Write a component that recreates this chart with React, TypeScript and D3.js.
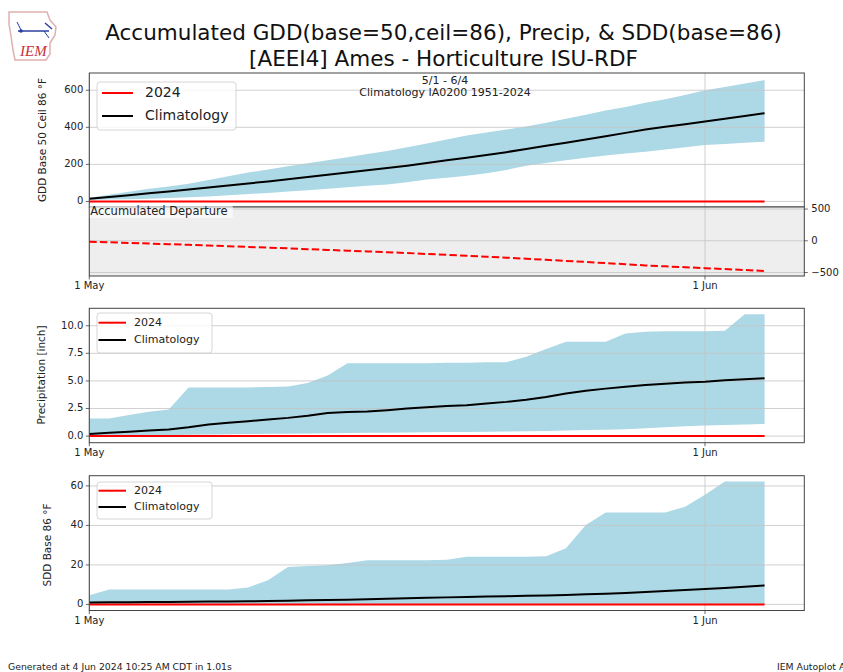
import React from "react";
import * as d3 from "d3";

// ---------- data ----------
const startDate = new Date(Date.UTC(2024, 4, 1));
const endDomain = new Date(Date.UTC(2024, 5, 6));
const dates: Date[] = d3.utcDay.range(startDate, new Date(Date.UTC(2024, 5, 5)));

const gddObs2024 = [0,0,0,0,0,0,0,0,0,0,0,0,0,0,0,0,0,0,0,0,0,0,0,0,0,0,0,0,0,0,0,0,0,0,0];
const gddClim = [14,24,34,44,54,64,75,86,97,108,120,132,144,156,168,180,193,208,222,236,251,266,283,300,317,334,352,370,388,403,417,431,446,461,476];
const gddUpper = [20,36,52,68,80,96,116,136,156,172,190,206,222,238,256,272,292,312,334,356,372,388,405,424,446,468,490,510,532,552,574,600,618,636,655];
const gddLower = [8,10,12,15,18,22,27,33,40,46,54,61,68,76,84,92,104,118,128,138,152,170,192,208,222,236,248,258,268,280,292,304,310,316,322];

const pcpObs2024 = [0,0,0,0,0,0,0,0,0,0,0,0,0,0,0,0,0,0,0,0,0,0,0,0,0,0,0,0,0,0,0,0,0,0,0];
const pcpClim = [0.19,0.3,0.4,0.5,0.6,0.8,1.05,1.2,1.35,1.5,1.65,1.85,2.1,2.18,2.22,2.35,2.5,2.62,2.72,2.8,2.95,3.1,3.3,3.55,3.85,4.1,4.3,4.48,4.62,4.75,4.85,4.93,5.05,5.15,5.24];
const pcpUpper = [1.6,1.6,1.9,2.2,2.4,4.4,4.4,4.4,4.4,4.45,4.5,4.8,5.5,6.6,6.6,6.6,6.6,6.6,6.65,6.65,6.7,6.7,7.2,7.9,8.55,8.55,8.55,9.3,9.45,9.5,9.5,9.5,9.55,11.05,11.05];
const pcpLower = [0,0.02,0.05,0.08,0.1,0.12,0.14,0.16,0.18,0.2,0.22,0.24,0.26,0.28,0.3,0.3,0.32,0.34,0.36,0.38,0.4,0.42,0.44,0.46,0.5,0.54,0.58,0.62,0.7,0.8,0.9,0.95,1.0,1.05,1.1];

const sddObs2024 = [0,0,0,0,0,0,0,0,0,0,0,0,0,0,0,0,0,0,0,0,0,0,0,0,0,0,0,0,0,0,0,0,0,0,0];
const sddClim = [1.0,1.05,1.1,1.15,1.2,1.3,1.4,1.5,1.6,1.7,1.9,2.05,2.2,2.4,2.6,2.85,3.1,3.35,3.55,3.75,3.95,4.15,4.35,4.55,4.8,5.1,5.4,5.8,6.3,6.8,7.3,7.8,8.3,8.9,9.6];
const sddUpper = [4.6,7.6,7.6,7.6,7.6,7.6,7.6,7.6,8.6,12.2,19.0,19.5,19.8,21.0,22.4,22.4,22.4,22.4,22.6,24.1,24.1,24.1,24.1,24.4,28.5,40.2,46.5,46.5,46.5,46.5,49.5,55.5,62.2,62.2,62.2];
const sddLower = [0,0,0,0,0,0,0,0,0,0,0,0,0,0,0,0,0,0,0,0,0,0,0,0,0,0,0,0,0,0,0,0,0,0,0];

const xTickDates = [new Date(Date.UTC(2024, 4, 1)), new Date(Date.UTC(2024, 5, 1))];
const xTickLabels = ["1 May", "1 Jun"];
const gddTicks = [0, 200, 400, 600];
const depTicks = [-500, 0, 500];
const pcpTicks = [0, 2.5, 5, 7.5, 10];
const sddTicks = [0, 20, 40, 60];
const legendLabels = ["2024", "Climatology"];

const titleLine1 = "Accumulated GDD(base=50,ceil=86), Precip, & SDD(base=86)";
const titleLine2 = "[AEEI4] Ames - Horticulture ISU-RDF";

// ---------- layout ----------
const W = 843, H = 672;
const FONT = "DejaVu Sans, Liberation Sans, sans-serif";
const xL = 89.3, xR = 804.3;
const x = d3.scaleUtc().domain([startDate, endDomain]).range([xL, xR]);

const yG = d3.scaleLinear().domain([-30, 693]).range([207, 73]);
const yD = d3.scaleLinear().domain([-555, 532]).range([276, 207]);
const yP = d3.scaleLinear().domain([-0.6, 11.58]).range([442.7, 308.3]);
const yS = d3.scaleLinear().domain([-3.1, 65.2]).range([610.5, 475.7]);

const GRID = "#c4c4c4";
const FRAME = "#444";
const BAND = "#add8e6";

function bandPath(y: d3.ScaleLinear<number, number>, lo: number[], hi: number[]) {
  return d3.area<number>()
    .x((_, i) => x(dates[i]))
    .y0((_, i) => y(lo[i]))
    .y1((_, i) => y(hi[i]))(lo.map((_, i) => i)) || "";
}
function linePath(y: d3.ScaleLinear<number, number>, v: number[]) {
  return d3.line<number>().x((_, i) => x(dates[i])).y((d) => y(d))(v) || "";
}

function YAxisLeft({ y, ticks, fmt }: { y: d3.ScaleLinear<number, number>; ticks: number[]; fmt: (v: number) => string }) {
  return (
    <g>
      {ticks.map((t) => (
        <g key={t}>
          <line x1={xL - 3.5} x2={xL} y1={y(t)} y2={y(t)} stroke={FRAME} strokeWidth={0.8} />
          <text x={xL - 6} y={y(t)} textAnchor="end" dominantBaseline="middle" fontSize={10} fill="#222">{fmt(t)}</text>
        </g>
      ))}
    </g>
  );
}

function HGrid({ y, ticks }: { y: d3.ScaleLinear<number, number>; ticks: number[] }) {
  return (
    <g>
      {ticks.map((t) => (
        <line key={t} x1={xL} x2={xR} y1={y(t)} y2={y(t)} stroke={GRID} strokeWidth={0.8} />
      ))}
    </g>
  );
}

function VGrid({ top, bottom }: { top: number; bottom: number }) {
  return (
    <g>
      {xTickDates.map((d, i) => (
        <line key={i} x1={x(d)} x2={x(d)} y1={top} y2={bottom} stroke={GRID} strokeWidth={0.8} />
      ))}
    </g>
  );
}

function XAxis({ bottom }: { bottom: number }) {
  return (
    <g>
      {xTickDates.map((d, i) => (
        <g key={i}>
          <line x1={x(d)} x2={x(d)} y1={bottom} y2={bottom + 3.5} stroke={FRAME} strokeWidth={0.8} />
          <text x={x(d)} y={bottom + 10} textAnchor="middle" dominantBaseline="middle" fontSize={10} fill="#222">{xTickLabels[i]}</text>
        </g>
      ))}
    </g>
  );
}

function Legend({ x0, y0, w, h, rows, fs, lineX1, lineX2, textX }: { x0: number; y0: number; w: number; h: number; rows: number[]; fs: number; lineX1: number; lineX2: number; textX: number }) {
  const colors = ["#ff0000", "#000000"];
  return (
    <g>
      <rect x={x0} y={y0} width={w} height={h} rx={3} fill="#fff" fillOpacity={0.8} stroke="#ccc" strokeWidth={0.8} />
      {legendLabels.map((lab, i) => (
        <g key={lab}>
          <line x1={lineX1} x2={lineX2} y1={rows[i]} y2={rows[i]} stroke={colors[i]} strokeWidth={2} />
          <text x={textX} y={rows[i]} dominantBaseline="middle" fontSize={fs} fill="#222">{lab}</text>
        </g>
      ))}
    </g>
  );
}

function Logo() {
  return (
    <g>
      <path d="M9,12 L47,12 L50,20 L56,27 L55,35 L50,43 L50,54 L46,60 L15,60 L13,50 L11,36 L9,24 Z" fill="#fff" stroke="#e0b0b0" strokeWidth={1.5} />
      <line x1={18} y1={31} x2={49} y2={31} stroke="#2a3f9f" strokeWidth={1.5} />
      <line x1={17} y1={22} x2={21} y2={30} stroke="#2a3f9f" strokeWidth={1} />
      <line x1={45} y1={23} x2={52} y2={29} stroke="#2a3f9f" strokeWidth={1.5} />
      <line x1={44} y1={31} x2={49} y2={38} stroke="#2a3f9f" strokeWidth={1} />
      <circle cx={21} cy={31} r={1.8} fill="#2a3f9f" />
      <text x={20} y={56} fontFamily="Liberation Serif, serif" fontStyle="italic" fontSize={15} fill="#c8323c">IEM</text>
    </g>
  );
}

export default function App() {
  const depValues = gddObs2024.map((v, i) => v - gddClim[i]);
  return (
    <svg width={W} height={H} viewBox={`0 0 ${W} ${H}`} style={{ position: "absolute", left: 0, top: 0, background: "#fff" }} fontFamily={FONT}>
      <rect x={0} y={0} width={W} height={H} fill="#fff" />
      <Logo />
      <text x={443.5} y={40} textAnchor="middle" fontSize={21.5} fill="#111">{titleLine1}</text>
      <text x={443.5} y={66} textAnchor="middle" fontSize={21.5} fill="#111">{titleLine2}</text>

      {/* ===== GDD panel ===== */}
      <path d={bandPath(yG, gddLower, gddUpper)} fill={BAND} />
      <HGrid y={yG} ticks={gddTicks} />
      <VGrid top={73} bottom={207} />
      <path d={linePath(yG, gddObs2024)} fill="none" stroke="#ff0000" strokeWidth={2} />
      <path d={linePath(yG, gddClim)} fill="none" stroke="#000" strokeWidth={2} />
      <rect x={xL} y={73} width={xR - xL} height={207 - 73} fill="none" stroke={FRAME} strokeWidth={1} />
      <YAxisLeft y={yG} ticks={gddTicks} fmt={(v) => String(v)} />
      <text transform={`translate(43,140) rotate(-90)`} textAnchor="middle" dominantBaseline="middle" fontSize={10.5} fill="#222">GDD Base 50 Ceil 86 °F</text>
      <text x={445} y={80.5} textAnchor="middle" dominantBaseline="middle" fontSize={11} fill="#222">5/1 - 6/4</text>
      <text x={445} y={93} textAnchor="middle" dominantBaseline="middle" fontSize={11} fill="#222">Climatology IA0200 1951-2024</text>
      <Legend x0={97} y0={82} w={139} h={48} rows={[93, 116]} fs={14} lineX1={102} lineX2={133} textX={145} />

      {/* ===== Departure panel ===== */}
      <rect x={xL} y={207} width={xR - xL} height={276 - 207} fill="#eeeeee" />
      <HGrid y={yD} ticks={depTicks} />
      <VGrid top={207} bottom={276} />
      <path d={linePath(yD, depValues)} fill="none" stroke="#ff0000" strokeWidth={2} strokeDasharray="7.4,3.2" />
      <rect x={xL} y={207} width={xR - xL} height={276 - 207} fill="none" stroke={FRAME} strokeWidth={1} />
      <rect x={xL + 0.5} y={205} width={143} height={13} fill="#fff" fillOpacity={0.6} />
      <text x={xL + 1} y={211.5} dominantBaseline="middle" fontSize={11.5} fill="#222">Accumulated Departure</text>
      {depTicks.map((t) => (
        <g key={t}>
          <line x1={xR} x2={xR + 3.5} y1={yD(t)} y2={yD(t)} stroke={FRAME} strokeWidth={0.8} />
          <text x={xR + 7} y={yD(t)} dominantBaseline="middle" fontSize={10} fill="#222">{d3.format("")(t).replace("-", "−")}</text>
        </g>
      ))}
      <XAxis bottom={276} />

      {/* ===== Precip panel ===== */}
      <path d={bandPath(yP, pcpLower, pcpUpper)} fill={BAND} />
      <HGrid y={yP} ticks={pcpTicks} />
      <VGrid top={308.3} bottom={442.7} />
      <path d={linePath(yP, pcpObs2024)} fill="none" stroke="#ff0000" strokeWidth={2} />
      <path d={linePath(yP, pcpClim)} fill="none" stroke="#000" strokeWidth={2} />
      <rect x={xL} y={308.3} width={xR - xL} height={442.7 - 308.3} fill="none" stroke={FRAME} strokeWidth={1} />
      <YAxisLeft y={yP} ticks={pcpTicks} fmt={d3.format(".1f")} />
      <text transform={`translate(42,375) rotate(-90)`} textAnchor="middle" dominantBaseline="middle" fontSize={10.5} fill="#222">Precipitation [inch]</text>
      <Legend x0={97} y0={313} w={115} h={40} rows={[322.7, 340]} fs={11} lineX1={98.5} lineX2={126} textX={134} />
      <XAxis bottom={442.7} />

      {/* ===== SDD panel ===== */}
      <path d={bandPath(yS, sddLower, sddUpper)} fill={BAND} />
      <HGrid y={yS} ticks={sddTicks} />
      <VGrid top={475.7} bottom={610.5} />
      <path d={linePath(yS, sddObs2024)} fill="none" stroke="#ff0000" strokeWidth={2} />
      <path d={linePath(yS, sddClim)} fill="none" stroke="#000" strokeWidth={2} />
      <rect x={xL} y={475.7} width={xR - xL} height={610.5 - 475.7} fill="none" stroke={FRAME} strokeWidth={1} />
      <YAxisLeft y={yS} ticks={sddTicks} fmt={(v) => String(v)} />
      <text transform={`translate(48,545) rotate(-90)`} textAnchor="middle" dominantBaseline="middle" fontSize={10.5} fill="#222">SDD Base 86 °F</text>
      <Legend x0={97} y0={482} w={115} h={37} rows={[490.7, 507]} fs={11} lineX1={98.5} lineX2={126} textX={134} />
      <XAxis bottom={610.5} />

      {/* footer */}
      <text x={8} y={667} dominantBaseline="middle" fontSize={9.3} fill="#222">Generated at 4 Jun 2024 10:25 AM CDT in 1.01s</text>
      <text x={777} y={667} dominantBaseline="middle" fontSize={9.3} fill="#222">IEM Autoplot App #9</text>
    </svg>
  );
}
